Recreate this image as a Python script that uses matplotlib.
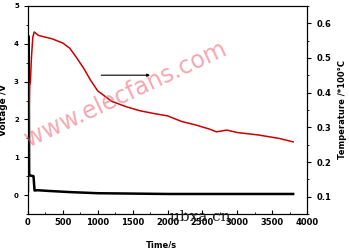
import matplotlib
matplotlib.use("Agg")
import matplotlib.pyplot as plt
from matplotlib.ticker import MultipleLocator

# voltage (left axis), black
volt_t = [0, 5, 10, 18, 25, 80, 95, 130, 300, 600, 1000, 1500, 2000, 2500, 3000, 3500, 3800]
volt_v = [0.1, 4.2, 4.2, 0.55, 0.52, 0.5, 0.12, 0.13, 0.11, 0.08, 0.05, 0.04, 0.03, 0.03, 0.03, 0.03, 0.03]

# temperature (right axis, x100 C), red
temp_t = [0, 8, 15, 25, 35, 50, 70, 90, 150, 250, 350, 500, 600, 700, 800, 900,
          1000, 1100, 1200, 1400, 1600, 1800, 2000, 2200, 2400, 2600, 2700,
          2850, 3000, 3300, 3600, 3800]
temp_v = [0.11, 0.20, 0.32, 0.42, 0.43, 0.50, 0.56, 0.575, 0.565, 0.56, 0.555,
          0.543, 0.528, 0.50, 0.47, 0.435, 0.405, 0.39, 0.375, 0.36, 0.348,
          0.34, 0.333, 0.317, 0.307, 0.295, 0.287, 0.292, 0.285, 0.278, 0.268, 0.258]

FS = 6
fig = plt.figure(figsize=(3.49, 2.48), dpi=100)
ax = fig.add_axes([0.080, 0.137, 0.800, 0.839])
ax2 = ax.twinx()

ax.plot(volt_t, volt_v, color="black", lw=1.8)
ax2.plot(temp_t, temp_v, color="#cc0000", lw=1.1)

ax.set_xlim(0, 4000)
ax.set_ylim(-0.5, 5)
ax2.set_ylim(0.05, 0.65)

ax.xaxis.set_major_locator(MultipleLocator(500))
ax.xaxis.set_minor_locator(MultipleLocator(250))
ax.yaxis.set_major_locator(MultipleLocator(1))
ax.yaxis.set_minor_locator(MultipleLocator(0.5))
ax2.yaxis.set_major_locator(MultipleLocator(0.1))
ax2.yaxis.set_minor_locator(MultipleLocator(0.05))

ax.tick_params(axis="x", which="both", direction="in", labelsize=FS, pad=3)
ax.tick_params(axis="x", which="major", length=3)
ax.tick_params(axis="x", which="minor", length=1.5)
ax.tick_params(axis="y", which="major", direction="out", length=3, labelsize=FS - 1)
ax.tick_params(axis="y", which="minor", direction="out", length=1.5)
ax2.tick_params(axis="y", which="major", direction="out", length=3, labelsize=FS)
ax2.tick_params(axis="y", which="minor", direction="out", length=1.5)
ax.set_yticks([0, 1, 2, 3, 4, 5])
ax.set_ylim(-0.5, 5)
for lab in ax.get_xticklabels() + ax.get_yticklabels() + ax2.get_yticklabels():
    lab.set_fontweight("bold")

ax.set_xlabel("Time/s", fontsize=FS, fontweight="bold")
ax.set_ylabel("Voltage /V", fontsize=FS + 0.5, fontweight="bold")
ax2.set_ylabel("Temperature /*100\u00b0C", fontsize=FS, fontweight="bold")
ax.xaxis.set_label_coords(0.48, -0.125)
ax.yaxis.set_label_coords(-0.072, 0.5)
ax2.yaxis.set_label_coords(1.112, 0.5)

ax.annotate("", xy=(1790, 3.17), xytext=(1010, 3.17),
            arrowprops=dict(arrowstyle="-|>", color="black", lw=0.8,
                            mutation_scale=4))

fig.text(0.36, 0.62, "www.elecfans.com", fontsize=17, color="#f06070", alpha=0.55,
         rotation=25, ha="center", va="center")
fig.text(0.573, 0.125, "ubxa cn", fontsize=11, family="DejaVu Serif", color="#222222",
         ha="center", va="center")

fig.savefig("out.png", dpi=100)
